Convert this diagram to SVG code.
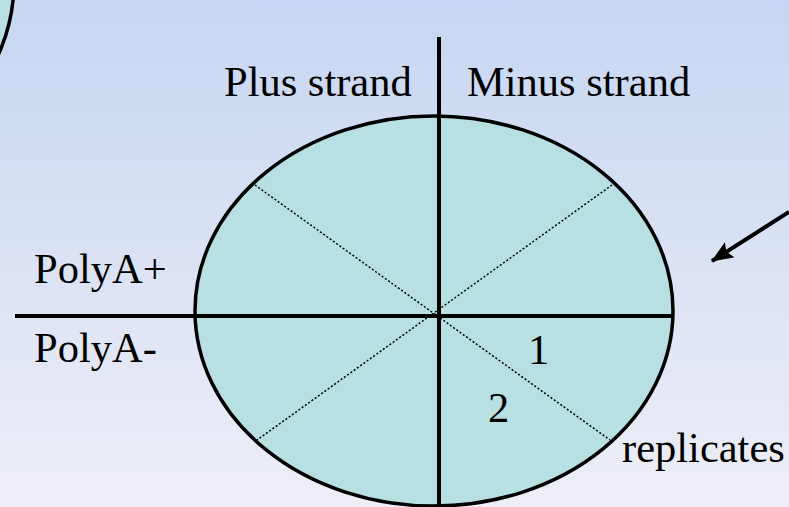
<svg xmlns="http://www.w3.org/2000/svg" width="789" height="507" viewBox="0 0 789 507">
<defs>
<linearGradient id="bg" x1="0" y1="0" x2="0" y2="1">
<stop offset="0" stop-color="#c6d6f2"/>
<stop offset="1" stop-color="#eeeef6"/>
</linearGradient>
<marker id="ah" markerWidth="22" markerHeight="18" refX="21" refY="9" orient="auto" markerUnits="userSpaceOnUse">
<path d="M0,0 L22,9 L0,18 L4,9 z" fill="#000"/>
</marker>
</defs>
<style>
.t{font-family:"Liberation Serif","Times New Roman",serif;font-size:42.5px;fill:#000}
.sh{fill:#b8e0e3;stroke:#000;stroke-width:3.5}
.ax{stroke:#000;stroke-width:4;fill:none}
.dot{stroke:#000;stroke-width:1.5;stroke-dasharray:2 2;fill:none}
</style>
<rect width="789" height="507" fill="url(#bg)"/>
<g id="corner-shape">
<circle class="sh" cx="-162" cy="-18" r="176"/>
</g>
<g id="ellipse-node">
<ellipse class="sh" cx="434" cy="311" rx="239" ry="195"/>
</g>
<g id="connectors">
<line class="dot" x1="255" y1="185" x2="610" y2="440"/>
<line class="dot" x1="612" y1="185" x2="257" y2="440"/>
<line class="ax" x1="439" y1="37" x2="439" y2="507"/>
<line class="ax" x1="15" y1="316" x2="673" y2="316"/>
<line class="ax" x1="789" y1="212" x2="712" y2="261" marker-end="url(#ah)"/>
</g>
<g id="labels">
<text class="t" x="224" y="96">Plus strand</text>
<text class="t" x="467" y="96">Minus strand</text>
<text class="t" x="34" y="283">PolyA+</text>
<text class="t" x="34" y="362">PolyA-</text>
<text class="t" x="528" y="364">1</text>
<text class="t" x="488" y="422">2</text>
<text class="t" x="622" y="462">replicates</text>
</g>
</svg>
